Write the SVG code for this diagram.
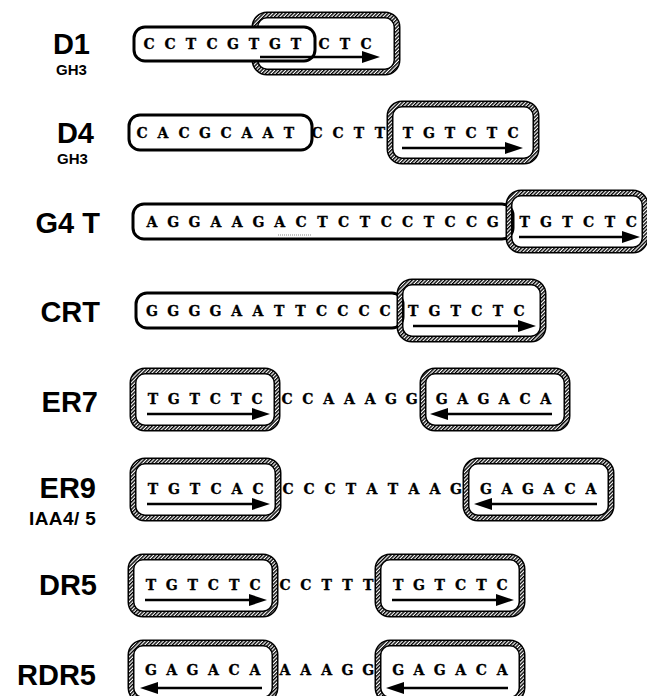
<svg xmlns="http://www.w3.org/2000/svg" width="647" height="696" viewBox="0 0 647 696">
<style>
.lbl{font-family:"Liberation Sans",Arial,sans-serif;font-weight:bold;font-size:29px;fill:#000;text-anchor:end}
.sub{font-family:"Liberation Sans",Arial,sans-serif;font-weight:bold;font-size:15px;fill:#000}
.seq{font-family:"DejaVu Serif","Liberation Serif",serif;font-weight:bold;font-size:14px;fill:#000;stroke:#000;stroke-width:0.3;text-anchor:middle}
.plain{fill:#fff;stroke:#000;stroke-width:3}
.hout{fill:none;stroke:#000;stroke-width:7}
.hin{fill:none;stroke:url(#hatch);stroke-width:4}
.arr{stroke:#000;stroke-width:2.6;fill:none;marker-end:url(#head)}
</style>
<defs>
<pattern id="hatch" width="2.6" height="2.6" patternUnits="userSpaceOnUse" patternTransform="rotate(45)">
<rect width="2.6" height="2.6" fill="#fff"/><rect width="1.4" height="2.6" fill="#000"/>
</pattern>
<marker id="head" markerUnits="userSpaceOnUse" markerWidth="18" markerHeight="12" refX="2" refY="6" orient="auto">
<path d="M0,0 L18,6 L0,12 z" fill="#000"/>
</marker>
</defs>
<rect width="647" height="696" fill="#fff"/>

<g id="D1">
<text class="lbl" x="90" y="54">D1</text>
<text class="sub" x="56" y="75">GH3</text>
<rect class="hout" x="255" y="15" width="142" height="57" rx="12"/>
<rect class="hin" x="255" y="15" width="142" height="57" rx="12"/>
<rect class="plain" x="134" y="27" width="181" height="34" rx="11"/>
<text class="seq" x="149 170 191 212 233 254 275 296 324 345 366" y="49">CCTCGTGTCTC</text>
</g>

<g id="D4">
<text class="lbl" x="94" y="143">D4</text>
<text class="sub" x="57" y="164">GH3</text>
<rect class="plain" x="129" y="115" width="183" height="35" rx="11"/>
<rect class="hout" x="390" y="104" width="146" height="57" rx="12"/>
<rect class="hin" x="390" y="104" width="146" height="57" rx="12"/>
<text class="seq" x="142 163 184 205 226 247 268 289 317 338 359 380 408 429 450 471 492 513" y="138">CACGCAATCCTTTGTCTC</text>
</g>

<g id="G4T">
<text class="lbl" x="100" y="233">G4 T</text>
<rect class="plain" x="133" y="204" width="380" height="35" rx="11"/>
<rect class="hout" x="509" y="193" width="136" height="57" rx="12"/>
<rect class="hin" x="509" y="193" width="136" height="57" rx="12"/>
<line x1="278" y1="235" x2="312" y2="235" stroke="#888" stroke-width="1" stroke-dasharray="1 1"/>
<text class="seq" x="152 173.3 194.6 215.9 237.2 258.5 279.8 301.1 322.4 343.7 365 386.3 407.6 428.9 450.2 471.5 492.8 524.8 546.1 567.4 588.7 610 631.3" y="227">AGGAAGACTCTCCTCCGTGTCTC</text>
</g>

<g id="CRT">
<text class="lbl" x="100" y="322">CRT</text>
<rect class="plain" x="136" y="293" width="267" height="35" rx="11"/>
<rect class="hout" x="400" y="282" width="143" height="57" rx="12"/>
<rect class="hin" x="400" y="282" width="143" height="57" rx="12"/>
<text class="seq" x="152 173.2 194.4 215.6 236.8 258 279.2 300.4 321.6 342.8 364 385.2 413.2 434.4 455.6 476.8 498 519.2" y="316">GGGGAATTCCCCTGTCTC</text>
</g>

<g id="ER7">
<text class="lbl" x="98" y="412">ER7</text>
<rect class="hout" x="133" y="371" width="144" height="57" rx="12"/>
<rect class="hin" x="133" y="371" width="144" height="57" rx="12"/>
<rect class="hout" x="423" y="371" width="144" height="57" rx="12"/>
<rect class="hin" x="423" y="371" width="144" height="57" rx="12"/>
<text class="seq" x="153 173.8 194.6 215.4 236.2 257 287 307.8 328.6 349.4 370.2 391 411.8 441.8 462.6 483.4 504.2 525 545.8" y="404">TGTCTCCCAAAGGGAGACA</text>
</g>

<g id="ER9">
<text class="lbl" x="96" y="498">ER9</text>
<text class="sub" x="29" y="525" style="font-size:19px;letter-spacing:0.4px">IAA4/ 5</text>
<rect class="hout" x="133" y="461" width="145" height="57" rx="12"/>
<rect class="hin" x="133" y="461" width="145" height="57" rx="12"/>
<rect class="hout" x="466" y="461" width="145" height="57" rx="12"/>
<rect class="hin" x="466" y="461" width="145" height="57" rx="12"/>
<text class="seq" x="153 174 195 216 237 258 288 309 330 351 372 393 414 435 456 486 507 528 549 570 591" y="494">TGTCACCCCTATAAGGAGACA</text>
</g>

<g id="DR5">
<text class="lbl" x="97" y="595">DR5</text>
<rect class="hout" x="131" y="557" width="144" height="57" rx="12"/>
<rect class="hin" x="131" y="557" width="144" height="57" rx="12"/>
<rect class="hout" x="378" y="557" width="144" height="57" rx="12"/>
<rect class="hin" x="378" y="557" width="144" height="57" rx="12"/>
<text class="seq" x="151 171.8 192.6 213.4 234.2 255 285 305.8 326.6 347.4 368.2 398.2 419 439.8 460.6 481.4 502.2" y="590">TGTCTCCCTTTTGTCTC</text>
</g>

<g id="RDR5">
<text class="lbl" x="96" y="685">RDR5</text>
<rect class="hout" x="131" y="643" width="144" height="57" rx="12"/>
<rect class="hin" x="131" y="643" width="144" height="57" rx="12"/>
<rect class="hout" x="378" y="643" width="144" height="57" rx="12"/>
<rect class="hin" x="378" y="643" width="144" height="57" rx="12"/>
<text class="seq" x="151 171.8 192.6 213.4 234.2 255 285 305.8 326.6 347.4 368.2 398.2 419 439.8 460.6 481.4 502.2" y="675">GAGACAAAAGGGAGACA</text>
</g>

<g id="arrows">
<line class="arr" x1="260" y1="57" x2="364" y2="57"/>
<line class="arr" x1="402" y1="148" x2="507" y2="148"/>
<line class="arr" x1="519" y1="237" x2="624" y2="237"/>
<line class="arr" x1="413" y1="326" x2="520" y2="326"/>
<line class="arr" x1="147" y1="414" x2="254" y2="414"/>
<line class="arr" x1="552" y1="414" x2="446" y2="414"/>
<line class="arr" x1="147" y1="504" x2="254" y2="504"/>
<line class="arr" x1="597" y1="504" x2="490" y2="504"/>
<line class="arr" x1="145" y1="600" x2="251" y2="600"/>
<line class="arr" x1="392" y1="600" x2="498" y2="600"/>
<line class="arr" x1="262" y1="688" x2="156" y2="688"/>
<line class="arr" x1="508" y1="688" x2="402" y2="688"/>
</g>
</svg>
